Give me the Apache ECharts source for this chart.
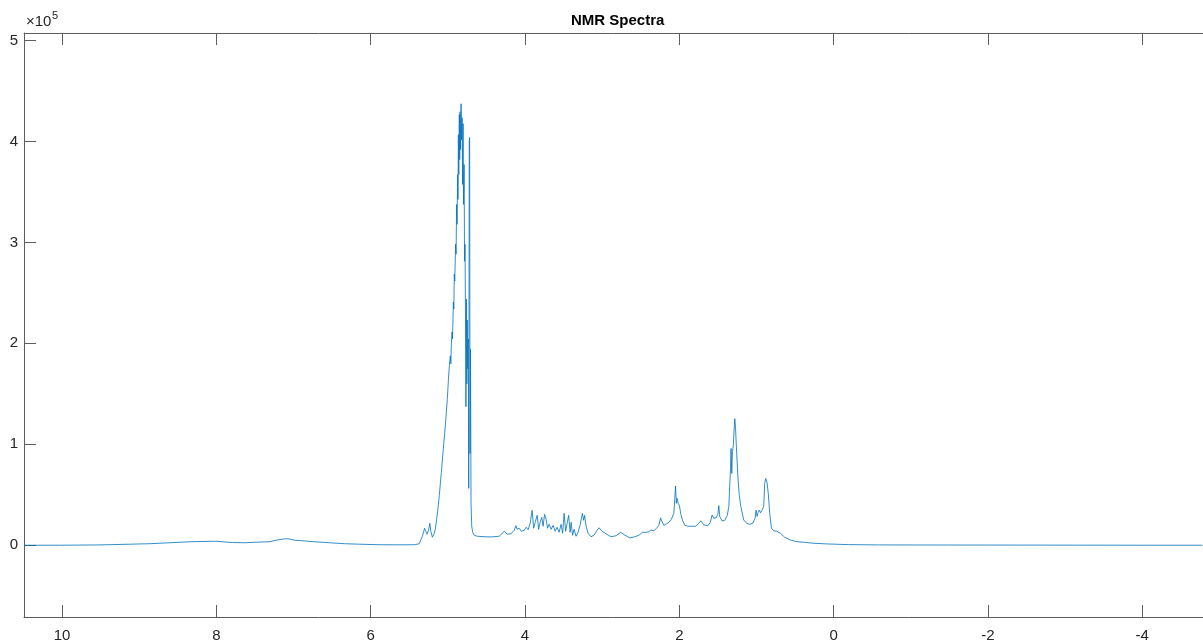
<!DOCTYPE html>
<html>
<head>
<meta charset="utf-8">
<title>NMR Spectra</title>
<script src="https://cdn.jsdelivr.net/npm/echarts@6/dist/echarts.min.js"></script>
<style>
  html, body { margin: 0; padding: 0; background: #fff; }
  #chart { width: 1203px; height: 643px; }
</style>
</head>
<body>
<div id="chart"></div>
<script>
// chemical shift (ppm) from left to right
const ppm = [
  10.49, 10.03, 9.51, 8.86, 8.34, 8.21, 8.01, 7.79, 7.63, 7.49, 7.31, 7.21, 7.10, 7.05, 6.99, 6.92, 6.73, 6.53, 6.34, 6.14, 5.89, 5.63, 5.43, 5.37,
  5.33, 5.30, 5.29, 5.27, 5.25, 5.233, 5.22, 5.20, 5.175, 5.162, 5.136, 5.11, 5.084, 5.058, 5.032, 5.006, 4.993, 4.980, 4.967, 4.961, 4.954, 4.945, 4.939,
  4.928, 4.922, 4.916, 4.910, 4.899, 4.893, 4.886, 4.880, 4.873, 4.868, 4.863, 4.858, 4.851, 4.846, 4.841, 4.835, 4.828, 4.822, 4.815, 4.809, 4.802, 4.796, 4.789, 4.783, 4.777, 4.770, 4.765, 4.760, 4.753, 4.748, 4.742, 4.735, 4.729, 4.722, 4.717, 4.712, 4.706, 4.699, 4.690, 4.677, 4.658,
  4.618, 4.528, 4.437, 4.334, 4.269, 4.230, 4.178, 4.140, 4.118, 4.101, 4.075, 4.049, 4.010, 3.984, 3.959, 3.933, 3.907, 3.888, 3.868, 3.842, 3.823, 3.804, 3.782, 3.765, 3.746, 3.726, 3.707, 3.687, 3.661, 3.635, 3.609, 3.584, 3.558, 3.532, 3.512, 3.493, 3.473, 3.454, 3.434, 3.415, 3.402, 3.383, 3.364, 3.338, 3.312, 3.286, 3.256, 3.240, 3.227, 3.208, 3.182, 3.144, 3.105, 3.066, 3.040, 3.001,
  2.950, 2.885, 2.820, 2.760, 2.704, 2.640, 2.575, 2.524, 2.478, 2.458, 2.432, 2.394, 2.368, 2.329, 2.290, 2.265, 2.242, 2.226, 2.200, 2.168, 2.135, 2.103, 2.071, 2.058, 2.049, 2.038, 2.028, 2.015, 1.999, 1.980, 1.954, 1.928, 1.889, 1.837, 1.786, 1.747, 1.721, 1.682, 1.630, 1.598, 1.575, 1.553, 1.523, 1.501, 1.488, 1.475, 1.445, 1.410, 1.378, 1.358,
  1.345, 1.336, 1.329, 1.320, 1.311, 1.300, 1.290, 1.281, 1.272, 1.262, 1.242, 1.223, 1.203, 1.165, 1.126, 1.087, 1.048, 1.018, 1.005, 0.992, 0.977, 0.961, 0.948, 0.931, 0.906, 0.893, 0.880, 0.863, 0.847, 0.828, 0.806, 0.776, 0.737, 0.690, 0.634, 0.569, 0.492, 0.388, 0.259, 0.065, -0.194, -0.582, -1.488, -2.781, -4.075, -4.78
];
// intensity for each ppm point
const intensity = [
  0, 0, 300, 1500, 3450, 3650, 3950, 2650, 2450, 2950, 3450, 5250, 6400, 6200, 4950, 4650, 3450, 2450, 1500, 1000, 500, 400, 500, 1500,
  8900, 16800, 14800, 10900, 14800, 21700, 13800, 7900, 11800, 15800, 30600, 49400, 72100, 95800, 118500, 145100, 162900, 177700, 187600, 179700, 199400, 211300, 204300,
  240900, 234000, 268500, 261600, 298100, 288300, 337600, 317900, 367200, 342500, 406700, 367200, 426500, 382000, 429400, 391900, 437300, 401800, 423500, 357400, 417600, 337600, 377100, 281300, 298100, 214200, 137200, 243800, 159900, 223100, 174700, 204300, 56300, 399800, 403800, 90800, 194500, 41500, 18800, 12800, 9900,
  8900, 8400, 8200, 8900, 13800, 10900, 11400, 14800, 19300, 15800, 16800, 13800, 14800, 17800, 15300, 21700, 34600, 16800, 22700, 29600, 15800, 22700, 27600, 18800, 30600, 25700, 16800, 20700, 15800, 19700, 13800, 17800, 12800, 20700, 11800, 31600, 13800, 21700, 29600, 12800, 22700, 9900, 15800, 8900, 12800, 19700, 31600, 24700, 29600, 18800, 11800, 8400, 9900, 14800, 17300, 13800,
  11400, 8400, 9400, 12800, 9900, 7200, 8400, 9900, 12800, 14500, 12800, 13300, 15100, 14300, 17300, 19700, 27100, 23700, 19700, 21200, 22700, 25700, 31600, 46400, 58700, 41500, 46400, 41500, 39500, 30600, 23700, 19700, 18800, 18800, 18800, 21700, 24200, 20200, 19300, 22700, 29900, 26700, 27100, 30600, 39200, 28300, 24000, 24700, 29600, 38500,
  61200, 76000, 95800, 71100, 92800, 98700, 113500, 125400, 117500, 100700, 69400, 49400, 38500, 25000, 21700, 20700, 21700, 26700, 34600, 28600, 32600, 34800, 32100, 34100, 38500, 61200, 66100, 62200, 51300, 31600, 16800, 14300, 13800, 11800, 7900, 5400, 3650, 2950, 1950, 1200, 600, 300, 200, 100, 0, 0
];

const xTicks = [10, 8, 6, 4, 2, 0, -2, -4];
const yTicks = [0, 100000, 200000, 300000, 400000, 500000];
const yTickLabels = ["0", "1", "2", "3", "4", "5"];

const axisColor = "#5e5e5e";
const labelColor = "#262626";
const font = "'Liberation Sans', Arial, Helvetica, sans-serif";

const chart = echarts.init(document.getElementById("chart"));
const option = {
  animation: false,
  backgroundColor: "#ffffff",
  title: {
    text: "NMR Spectra",
    left: 566,
    top: 8,
    textStyle: { fontSize: 15, fontWeight: "bold", color: "#000", fontFamily: font },
  },
  graphic: [
    { type: "text", left: 26, top: 14, style: { text: "×10", fontSize: 15, fill: labelColor, fontFamily: font } },
    { type: "text", left: 52, top: 10, style: { text: "5", fontSize: 11, fill: labelColor, fontFamily: font } },
  ],
  grid: { left: 24, right: 0, top: 33, bottom: 24, containLabel: false },
  xAxis: [
    {
      type: "value",
      inverse: true,
      min: -4.787,
      max: 10.4925,
      axisLine: { show: true, onZero: false, lineStyle: { color: axisColor, width: 1 } },
      axisTick: { show: true, inside: true, length: 12, customValues: xTicks, lineStyle: { color: axisColor } },
      axisLabel: {
        customValues: xTicks,
        margin: 11,
        fontSize: 15,
        color: labelColor,
        fontFamily: font,
      },
      splitLine: { show: false },
    },
    {
      type: "value",
      inverse: true,
      position: "top",
      min: -4.787,
      max: 10.4925,
      axisLine: { show: true, onZero: false, lineStyle: { color: axisColor, width: 1 } },
      axisTick: { show: true, inside: true, length: 12, customValues: xTicks, lineStyle: { color: axisColor } },
      axisLabel: { show: false },
      splitLine: { show: false },
    },
  ],
  yAxis: {
    type: "value",
    position: "left",
    min: -71100,
    max: 507400,
    axisLine: { show: true, onZero: false, lineStyle: { color: axisColor, width: 1 } },
    axisTick: { show: true, inside: true, length: 12, customValues: yTicks, lineStyle: { color: axisColor } },
    axisLabel: {
      customValues: yTicks,
      margin: 6,
      fontSize: 15,
      color: labelColor,
      fontFamily: font,
      formatter: (v) => yTickLabels[yTicks.indexOf(v)],
    },
    splitLine: { show: false },
  },
  series: [
    {
      type: "line",
      xAxisIndex: 0,
      yAxisIndex: 0,
      data: ppm.map((p, i) => [p, intensity[i]]),
      showSymbol: false,
      symbol: "none",
      sampling: null,
      lineStyle: { color: "#0072BD", width: 1, opacity: 0.8 },
    },
  ],
};
chart.setOption(option);
</script>
</body>
</html>
